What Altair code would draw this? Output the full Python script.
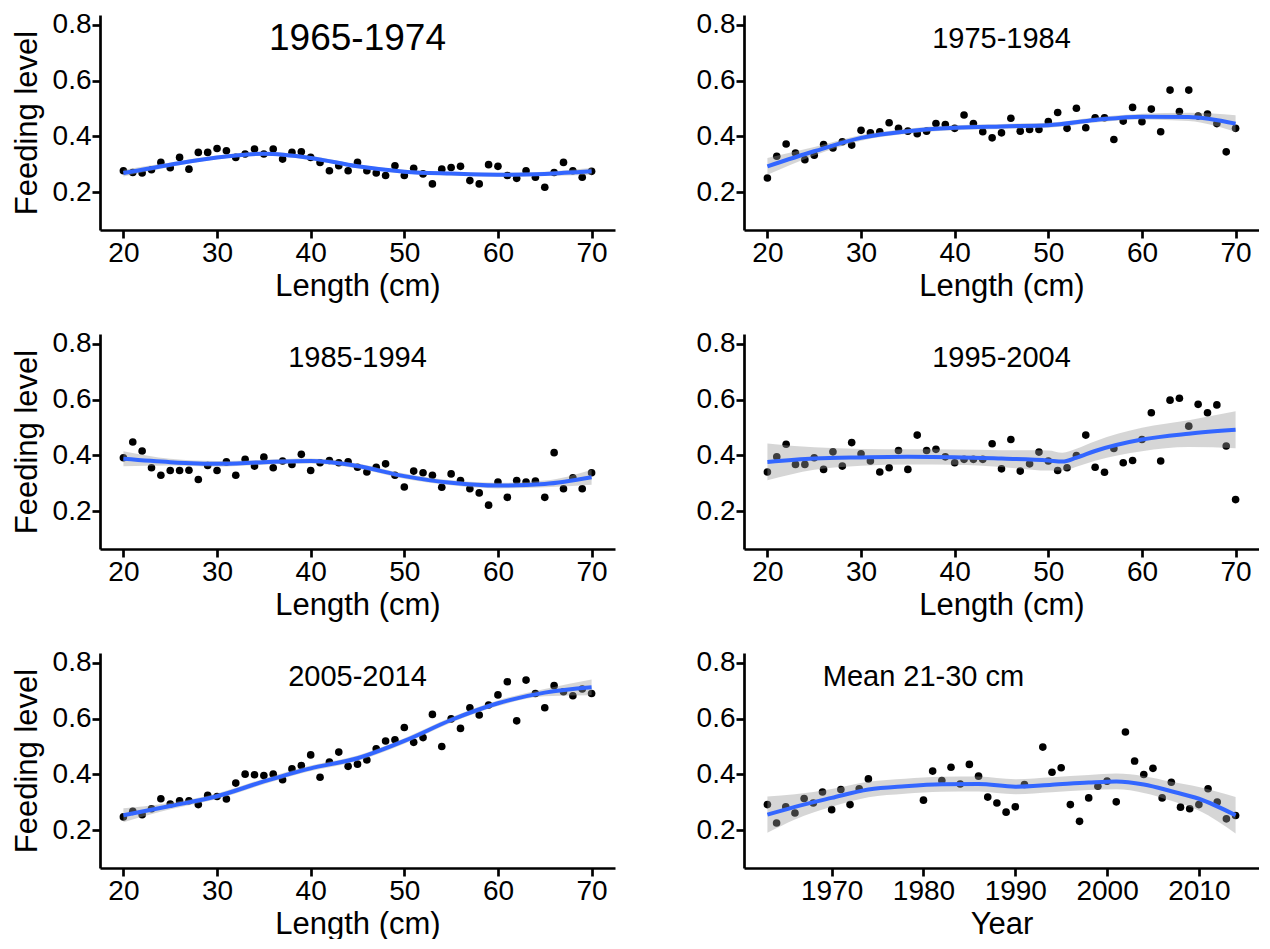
import altair as alt
import pandas as pd

# ---------------- data ----------------
length = list(range(20, 71))

fl_1965 = [0.277, 0.271, 0.269, 0.281, 0.307, 0.288, 0.325, 0.283, 0.343, 0.343,
           0.357, 0.349, 0.325, 0.337, 0.355, 0.337, 0.355, 0.319, 0.343, 0.345,
           0.325, 0.307, 0.277, 0.295, 0.277, 0.307, 0.277, 0.269, 0.260, 0.295,
           0.260, 0.286, 0.266, 0.230, 0.283, 0.289, 0.293, 0.242, 0.230, 0.299,
           0.293, 0.260, 0.250, 0.277, 0.254, 0.218, 0.271, 0.307, 0.277, 0.254,
           0.275]
fl_1975 = [0.251, 0.329, 0.373, 0.341, 0.317, 0.333, 0.371, 0.359, 0.381, 0.369,
           0.422, 0.413, 0.417, 0.449, 0.429, 0.419, 0.410, 0.419, 0.446, 0.443,
           0.429, 0.477, 0.446, 0.417, 0.395, 0.413, 0.465, 0.419, 0.425, 0.425,
           0.453, 0.486, 0.429, 0.501, 0.431, 0.467, 0.467, 0.389, 0.455, 0.504,
           0.453, 0.498, 0.417, 0.566, 0.489, 0.566, 0.473, 0.480, 0.446, 0.345,
           0.429]
fl_1985 = [0.392, 0.448, 0.416, 0.356, 0.329, 0.346, 0.346, 0.347, 0.314, 0.364,
           0.346, 0.377, 0.329, 0.386, 0.362, 0.394, 0.356, 0.380, 0.368, 0.404,
           0.346, 0.374, 0.382, 0.374, 0.377, 0.358, 0.341, 0.358, 0.370, 0.329,
           0.287, 0.344, 0.338, 0.329, 0.286, 0.334, 0.310, 0.281, 0.266, 0.222,
           0.305, 0.250, 0.310, 0.305, 0.308, 0.250, 0.410, 0.281, 0.320, 0.281,
           0.338]
fl_1995 = [0.341, 0.395, 0.440, 0.368, 0.368, 0.392, 0.350, 0.413, 0.362, 0.446,
           0.406, 0.380, 0.341, 0.356, 0.418, 0.350, 0.473, 0.418, 0.422, 0.395,
           0.374, 0.386, 0.386, 0.386, 0.442, 0.352, 0.457, 0.344, 0.370, 0.412,
           0.380, 0.346, 0.356, 0.400, 0.473, 0.358, 0.340, 0.425, 0.374, 0.382,
           0.457, 0.553, 0.380, 0.598, 0.605, 0.505, 0.583, 0.553, 0.581, 0.434,
           0.242]
fl_2005 = [0.248, 0.268, 0.256, 0.277, 0.313, 0.294, 0.306, 0.306, 0.292, 0.325,
           0.321, 0.312, 0.369, 0.401, 0.399, 0.396, 0.401, 0.381, 0.420, 0.432,
           0.470, 0.390, 0.444, 0.480, 0.429, 0.437, 0.452, 0.492, 0.520, 0.524,
           0.568, 0.515, 0.532, 0.615, 0.500, 0.599, 0.565, 0.639, 0.613, 0.649,
           0.685, 0.732, 0.592, 0.738, 0.690, 0.639, 0.718, 0.696, 0.682, 0.706,
           0.690]

years = [1963, 1964, 1965, 1966, 1967, 1968, 1969, 1970, 1971, 1972, 1973, 1974,
         1980, 1981, 1982, 1983, 1984, 1985, 1986, 1987, 1988, 1989, 1990, 1991,
         1993, 1994, 1995, 1996, 1997, 1998, 1999, 2000, 2001, 2002, 2003, 2004,
         2005, 2006, 2007, 2008, 2009, 2010, 2011, 2012, 2013, 2014]
fl_mean = [0.292, 0.226, 0.284, 0.262, 0.314, 0.298, 0.337, 0.274, 0.346, 0.292, 0.349, 0.384,
           0.308, 0.412, 0.378, 0.426, 0.366, 0.436, 0.394, 0.319, 0.298, 0.265, 0.284, 0.364,
           0.498, 0.408, 0.424, 0.292, 0.232, 0.316, 0.358, 0.376, 0.302, 0.552, 0.448, 0.400,
           0.422, 0.316, 0.372, 0.283, 0.277, 0.292, 0.349, 0.301, 0.241, 0.253]

# smoothed fits and band half-widths
fit_len = [20, 25, 30, 35, 40, 45, 50, 55, 60, 65, 70]
fit_1965 = [0.269, 0.299, 0.325, 0.338, 0.323, 0.293, 0.274, 0.267, 0.263, 0.266, 0.275]
se_1965 = [0.012, 0.008, 0.007, 0.007, 0.007, 0.007, 0.007, 0.007, 0.007, 0.008, 0.012]
fit_1975 = [0.293, 0.347, 0.395, 0.419, 0.431, 0.436, 0.440, 0.459, 0.471, 0.470, 0.446]
se_1975 = [0.030, 0.015, 0.010, 0.009, 0.009, 0.009, 0.009, 0.009, 0.010, 0.015, 0.030]
fit_1985 = [0.388, 0.376, 0.370, 0.376, 0.380, 0.362, 0.326, 0.302, 0.292, 0.298, 0.322]
se_1985 = [0.027, 0.012, 0.010, 0.009, 0.009, 0.009, 0.009, 0.009, 0.010, 0.012, 0.027]
fit_len_1995 = [20, 25, 30, 35, 40, 45, 50, 51.5, 53, 55, 60, 65, 70]
fit_1995 = [0.377, 0.389, 0.393, 0.395, 0.394, 0.389, 0.382, 0.378, 0.392, 0.416, 0.457, 0.478, 0.492]
se_1995 = [0.066, 0.040, 0.030, 0.027, 0.027, 0.030, 0.036, 0.032, 0.032, 0.035, 0.042, 0.048, 0.066]
fit_2005 = [0.254, 0.287, 0.322, 0.375, 0.422, 0.458, 0.520, 0.595, 0.655, 0.693, 0.712]
se_2005 = [0.025, 0.012, 0.010, 0.010, 0.010, 0.010, 0.010, 0.010, 0.010, 0.013, 0.028]
fit_years = [1963, 1966, 1970, 1974, 1978, 1982, 1986, 1990, 1994, 1998, 2001, 2004, 2007, 2010, 2014]
fit_mean = [0.256, 0.284, 0.316, 0.346, 0.358, 0.365, 0.366, 0.356, 0.363, 0.371, 0.375, 0.364,
            0.340, 0.313, 0.254]
se_mean = [0.065, 0.045, 0.032, 0.028, 0.027, 0.027, 0.027, 0.027, 0.027, 0.027, 0.028, 0.030,
           0.034, 0.042, 0.065]

labels = ["1965-1974", "1975-1984", "1985-1994", "1995-2004", "2005-2014", "Mean 21-30 cm"]
label_x = [45, 45, 45, 45, 45, 1980]
label_y = [0.75, 0.75, 0.75, 0.75, 0.75, 0.75]
label_size = [37, 29, 29, 29, 29, 29]

FONT = "Liberation Sans"
W, H = 515, 215
YDOM = [0.065, 0.835]


def panel(xs, ys, fx, fy, fse, idx, xdomain, xtitle, xticks, ytitle):
    pts = pd.DataFrame({"x": xs, "y": ys})
    fit = pd.DataFrame({"x": fx, "fit": fy,
                        "lo": [a - b for a, b in zip(fy, fse)],
                        "hi": [a + b for a, b in zip(fy, fse)]})
    ann = pd.DataFrame({"x": [label_x[idx]], "y": [label_y[idx]], "t": [labels[idx]]})

    xscale = alt.Scale(domain=xdomain, nice=False, zero=False)
    yscale = alt.Scale(domain=YDOM, nice=False, zero=False)
    xaxis = alt.Axis(values=xticks, format="d", title=xtitle, titlePadding=4)
    if ytitle:
        yaxis = alt.Axis(values=[0.2, 0.4, 0.6, 0.8], format=".1f", title=ytitle,
                         titlePadding=9)
    else:
        yaxis = alt.Axis(values=[0.2, 0.4, 0.6, 0.8], format=".1f", title=None)

    points = alt.Chart(pts).mark_circle(size=58, color="black", opacity=1).encode(
        x=alt.X("x:Q", scale=xscale, axis=xaxis),
        y=alt.Y("y:Q", scale=yscale, axis=yaxis),
    )
    band = alt.Chart(fit).mark_area(color="#999999", opacity=0.4, interpolate="monotone").encode(
        x=alt.X("x:Q", scale=xscale),
        y=alt.Y("lo:Q", scale=yscale),
        y2="hi:Q",
    )
    line = alt.Chart(fit).mark_line(color="#3366FF", strokeWidth=4, interpolate="monotone").encode(
        x=alt.X("x:Q", scale=xscale),
        y=alt.Y("fit:Q", scale=yscale),
    )
    text = alt.Chart(ann).mark_text(font=FONT, fontSize=label_size[idx], color="black",
                                    align="center", baseline="middle").encode(
        x=alt.X("x:Q", scale=xscale),
        y=alt.Y("y:Q", scale=yscale),
        text="t:N",
    )
    return alt.layer(points, band, line, text).properties(width=W, height=H)


LDOM = [17.5, 72.5]
LT = [20, 30, 40, 50, 60, 70]
p1 = panel(length, fl_1965, fit_len, fit_1965, se_1965, 0, LDOM, "Length (cm)", LT, "Feeding level")
p2 = panel(length, fl_1975, fit_len, fit_1975, se_1975, 1, LDOM, "Length (cm)", LT, None)
p3 = panel(length, fl_1985, fit_len, fit_1985, se_1985, 2, LDOM, "Length (cm)", LT, "Feeding level")
p4 = panel(length, fl_1995, fit_len_1995, fit_1995, se_1995, 3, LDOM, "Length (cm)", LT, None)
p5 = panel(length, fl_2005, fit_len, fit_2005, se_2005, 4, LDOM, "Length (cm)", LT, "Feeding level")
p6 = panel(years, fl_mean, fit_years, fit_mean, se_mean, 5, [1960.45, 2016.55], "Year",
           [1970, 1980, 1990, 2000, 2010], None)

HS = 81
chart = alt.vconcat(
    alt.hconcat(p1, p2, spacing=HS),
    alt.hconcat(p3, p4, spacing=HS),
    alt.hconcat(p5, p6, spacing=HS),
    spacing=28,
).properties(
    padding={"top": 2, "left": 3, "right": 0, "bottom": 0}, background="white"
).configure_view(stroke=None).configure_axis(
    grid=False,
    domainColor="black", domainWidth=2.7,
    tickColor="black", tickWidth=2.7, tickSize=8,
    labelFont=FONT, labelFontSize=28, labelColor="black", labelPadding=1,
    titleFont=FONT, titleFontSize=31, titleFontWeight="normal", titleColor="black",
).configure_concat(spacing=HS)

chart.save("out.html", embed_options={"renderer": "svg", "actions": False})
